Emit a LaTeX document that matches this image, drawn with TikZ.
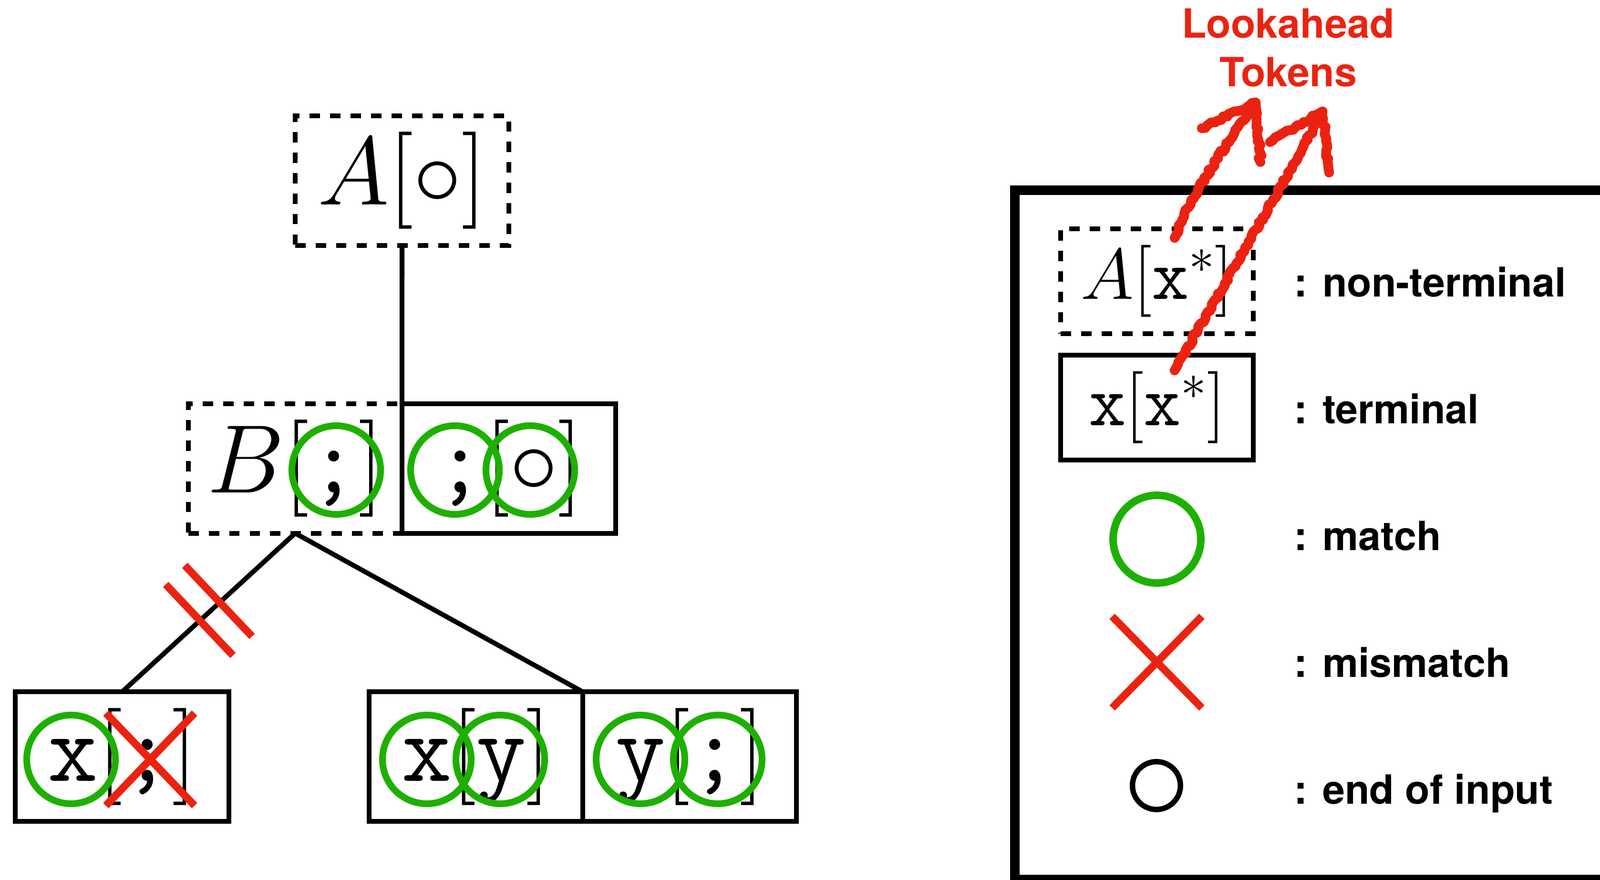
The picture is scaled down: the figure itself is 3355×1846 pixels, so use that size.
\RequirePackage{fix-cm}
\documentclass[tikz,border=0pt]{standalone}
\usepackage{fontspec}
\newfontfamily\labelfont{TeX Gyre Heros}
\usetikzlibrary{calc,decorations.pathmorphing}
\definecolor{tokred}{RGB}{236,34,16}
\definecolor{matchgreen}{RGB}{30,176,0}
\newcommand{\treefont}{\fontsize{58}{70}\selectfont}
\newcommand{\legfont}{\fontsize{43}{52}\selectfont}
\newcommand{\keyfont}{\labelfont\bfseries\fontsize{24}{29}\selectfont}
\newcommand{\semi}{\texttt{;}}

\begin{document}
\begin{tikzpicture}[x=0.01cm,y=-0.01cm,
  edge/.style={line width=2.85pt},
  tbox/.style={draw, line width=2.85pt, minimum width=4.48cm, minimum height=2.71cm,
    inner sep=0pt, outer sep=0pt, font=\treefont},
  ntbox/.style={tbox, dash pattern=on 6.2pt off 6pt},
  match/.style={draw=matchgreen, line width=4pt},
  mismatch/.style={draw=tokred, line width=4.5pt},
  keytext/.style={anchor=base west, inner sep=0pt, font=\keyfont},
  scribble/.style={draw=tokred, line width=5.8pt, line cap=round, line join=round,
    decorate, decoration={random steps, segment length=2pt, amplitude=0.9pt}}
]
\useasboundingbox (0,0) rectangle (3355,1846);

% Parse tree
\node[ntbox] (A) at (843,379) {$A[\circ]$};
\node[ntbox] (B) at (619,983) {$B[\semi]$};
\node[tbox] (Bnext) at (1067,983) {$\semi[\circ]$};
\node[tbox] (xs) at (256,1587) {$\mathtt{x}[\semi]$};
\node[tbox] (xy) at (998,1587) {$\mathtt{x}[\mathtt{y}]$};
\node[tbox] (ys) at (1446,1587) {$\mathtt{y}[\semi]$};

\draw[edge] (A.south) -- (Bnext.north west);
\draw[edge] (B.south) -- (xs.north);
\draw[edge] (B.south) -- (xy.north east);

% Cut branch
\coordinate (cut) at ($(B.south)!0.5!(xs.north)$);
\draw[mismatch] ($(cut)+(-50,-99)$) -- ++(141,149);
\draw[mismatch] ($(cut)+(-90,-59)$) -- ++(141,149);

% Matched lookahead tokens
\foreach \cx/\cy in {705/986, 954/986, 1112/986, 149/1593, 895/1593, 1049/1593, 1343/1593, 1505/1593}
  \draw[match] (\cx,\cy) circle (93);

\coordinate (miss) at (315,1593);
\draw[mismatch] ($(miss)+(-93,-97)$) -- ($(miss)+(93,97)$)
                ($(miss)+(-93,97)$) -- ($(miss)+(93,-97)$);

% Legend
\draw[line width=5.7pt] (2128,399) rectangle (3420,1845);
\node[ntbox, minimum width=4.03cm, minimum height=2.2cm, font=\legfont] (keyNT) at (2426,590) {$A[\mathtt{x}^*]$};
\node[tbox, minimum width=4.03cm, minimum height=2.19cm, font=\legfont] (keyT) at (2426,855) {$\mathtt{x}[\mathtt{x}^*]$};
\draw[match, line width=4.5pt] (2426,1131) circle (92);
\coordinate (keyX) at (2426,1389);
\draw[mismatch] ($(keyX)+(-94,-96)$) -- ($(keyX)+(94,96)$)
                ($(keyX)+(-94,96)$) -- ($(keyX)+(94,-96)$);
\node[font=\fontsize{82}{88}\selectfont, inner sep=0pt] (keyEnd) at (2426,1656) {$\circ$};

\node[keytext] (lblNT) at (2713,623) {: non-terminal};
\node[keytext] (lblT) at (2713,888) {: terminal};
\node[keytext] (lblM) at (2713,1154) {: match};
\node[keytext] (lblX) at (2713,1420) {: mismatch};
\node[keytext] (lblE) at (2713,1686) {: end of input};

% Lookahead note
\node[font=\keyfont, text=tokred, align=center, anchor=north, inner sep=0pt] (look) at (2701,17) {Lookahead\\Tokens};

\coordinate (tail1) at (2463,499);
\coordinate (tip1) at (2633,215);
\draw[scribble] (tail1) .. controls (2490,420) and (2580,290) .. (tip1);
\draw[scribble] (2520,269) -- (tip1) -- (2643,340);

\coordinate (tail2) at (2463,777);
\coordinate (tip2) at (2773,234);
\draw[scribble] (tail2) .. controls (2535,650) and (2700,370) .. (tip2);
\draw[scribble] (2663,298) -- (tip2) -- (2787,362);

\end{tikzpicture}
\end{document}
